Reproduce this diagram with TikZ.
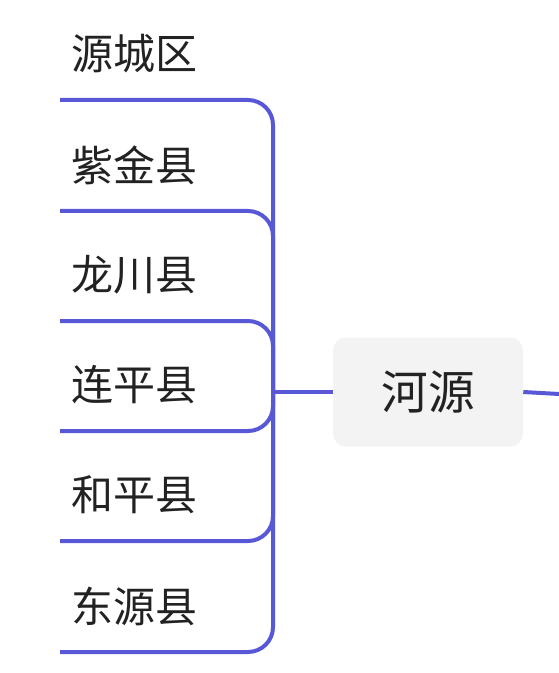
\documentclass[tikz,border=0pt]{standalone}
\usepackage{fontspec}
\newfontfamily\cjk{Noto Sans CJK SC}
\newdimen\pxu \pxu=0.75pt
\definecolor{branch}{RGB}{88,88,214}
\definecolor{nodebg}{RGB}{243,243,243}
\definecolor{ink}{RGB}{34,34,34}
\begin{document}
\begin{tikzpicture}[x=0.75pt,y=-0.75pt,
  conn/.style={draw=branch,line width=4\pxu,rounded corners=25\pxu},
  leaf/.style={anchor=west,inner sep=0pt,text=ink,font=\cjk\fontsize{31.5pt}{36pt}\selectfont},
  root/.style={fill=nodebg,rounded corners=13\pxu,minimum width=190\pxu,minimum height=109\pxu,inner sep=0pt,text=ink,font=\cjk\fontsize{35pt}{40pt}\selectfont}]
\useasboundingbox (0,0) rectangle (559,673);
\node[root] (c) at (428,392) {河源};
\coordinate (j) at (273,392);
\coordinate (r) at (559,394);
\foreach \i/\y/\t in {1/100/源城区,2/211/紫金县,3/321/龙川县,4/431/连平县,5/541/和平县,6/652/东源县}{
  \coordinate (u\i) at (60,\y);
  \node[leaf] (t\i) at (71,\y-46) {\t};
  \draw[conn] (j) |- (u\i);
}
\draw[conn] (c.west) -- (j);
\draw[conn] (c.east) -- (r);
\end{tikzpicture}
\end{document}
